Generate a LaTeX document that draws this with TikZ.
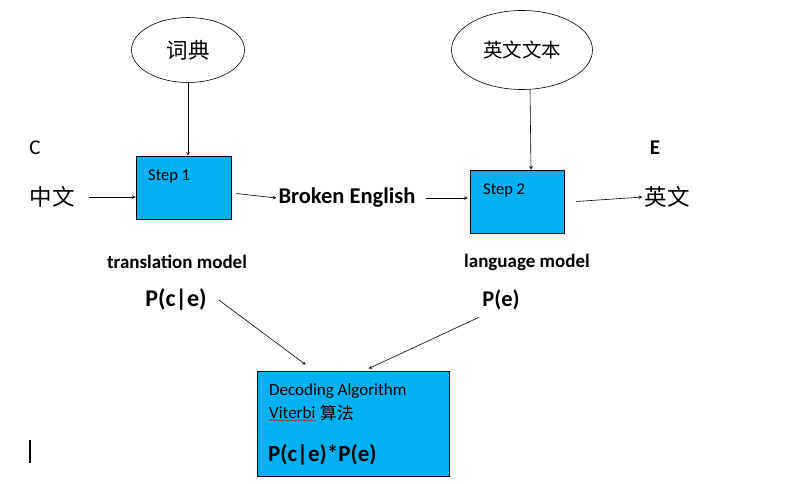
\documentclass[tikz,border=0pt]{standalone}
\usepackage{fontspec}
\setmainfont{Carlito}
\newfontfamily\cjk{Noto Sans CJK SC}
\usepackage{tikz}
\usetikzlibrary{arrows,shapes,shapes.geometric}
\usetikzlibrary{decorations.pathmorphing}
\definecolor{officeblue}{RGB}{0,176,240}
\tikzset{
	stepbox/.style={rectangle, draw=black, fill=officeblue, thick, inner sep=0pt},
	dictnode/.style={ellipse, draw=black, semithick, inner sep=0pt},
	word/.style={inner sep=2pt},
	link/.style={->, >=stealth, semithick}
}

\begin{document}
\begin{tikzpicture}[x=1pt,y=-1pt]
			\useasboundingbox (0,0) rectangle (790,484);
			% ellipses
			\node[dictnode, minimum width=113pt, minimum height=65pt] (cidian) at (188,50) {\fontsize{21.5}{25}\cjk 词典};
			\node[dictnode, minimum width=141pt, minimum height=79pt] (wenben) at (522,50) {\fontsize{19.5}{23}\cjk 英文文本};
			% boxes
			\node[stepbox, minimum width=95pt, minimum height=63pt] (step1) at (183.5,187.5) {};
			\node[stepbox, minimum width=94pt, minimum height=63pt] (step2) at (517,201.5) {};
			\node[stepbox, minimum width=192pt, minimum height=105pt] (decode) at (353,423.5) {};
			\node[word, anchor=west] (steplabel1) at (146,176) {\fontsize{16.5}{20}\selectfont Step 1};
			\node[word, anchor=west] (steplabel2) at (481,190) {\fontsize{16.5}{20}\selectfont Step 2};
			% texts
			\node[word] (C) at (35,148) {\fontsize{21}{25}\selectfont C};
			\node[word] (E) at (655,148) {\fontsize{21}{25}\selectfont\bfseries E};
			\node[word] (zhong) at (52,197) {\fontsize{22.5}{27}\cjk 中文};
			\node[word] (ying) at (667,197) {\fontsize{22.5}{27}\cjk 英文};
			\node[word] (broken) at (347,198) {\fontsize{22.5}{27}\selectfont\bfseries Broken English};
			\node[word] (tmodel) at (177,262) {\fontsize{19}{23}\selectfont\bfseries translation model};
			\node[word] (lmodel) at (527,262) {\fontsize{19}{23}\selectfont\bfseries language model};
			\node[word] (pce) at (176,300) {\fontsize{24}{29}\selectfont\bfseries P(c|e)};
			\node[word] (pe) at (501,300) {\fontsize{22.5}{27}\selectfont\bfseries P(e)};
			\node[word, anchor=west] (algo) at (267,391) {\fontsize{17}{20}\selectfont Decoding Algorithm};
			\node[word, anchor=west] (viterbi) at (267,413) {\fontsize{17}{20}\selectfont Viterbi};
			\node[inner sep=0pt, anchor=west] (suanfa) at ([xshift=2pt]viterbi.east) {\fontsize{17}{20}\cjk 算法};
			\node[word, anchor=west] (product) at (266,455) {\fontsize{23}{27}\selectfont\bfseries P(c|e)*P(e)};
			% spelling mark and cursor
			\draw[red, line width=0.5pt, decorate, decoration={snake, amplitude=0.7pt, segment length=3pt}]
				([xshift=2pt,yshift=1pt]viterbi.south west) -- ([xshift=-2pt,yshift=1pt]viterbi.south east);
			\draw[line width=1.5pt] (30,440) -- (30,463);
			% arrows
			\draw[link] (cidian.south) -- (cidian.south |- step1.north);
			\draw[link] ([xshift=8pt]wenben.south) -- ([xshift=14pt]step2.north);
			\draw[link] ([xshift=12pt]zhong.east) -- (step1.west |- zhong.east);
			\draw[link] ([xshift=5pt,yshift=-6pt]step1.east) -- (broken.west);
			\draw[link] ([xshift=8pt]broken.east) -- ([xshift=-2pt]step2.west |- broken.east);
			\draw[link] ([xshift=12pt]step2.east) -- (ying.west);
			\draw[link] ([xshift=10pt]pce.east) -- ([xshift=49pt,yshift=6pt]decode.north west);
			\draw[link] ([xshift=-22pt,yshift=-5pt]pe.south) -- ([xshift=112pt,yshift=2pt]decode.north west);
		\end{tikzpicture}
\end{document}
